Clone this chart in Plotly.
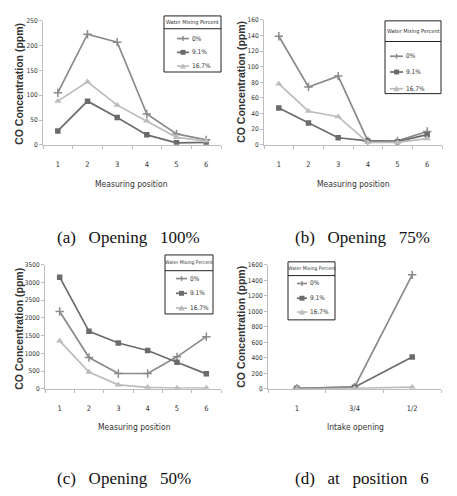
import plotly.graph_objects as go

# reference canvas size; the page adds an 8px body margin, so the figure is 8px smaller
W, H = 457, 496
PAD = 8
FW, FH = W - PAD, H - PAD

# series labels and marker styles
series = ["0%", "9.1%", "16.7%"]
colors = ["#8a8a8a", "#6b6b6b", "#bcbcbc"]

# x categories
positions = ["1", "2", "3", "4", "5", "6"]
openings = ["1", "3/4", "1/2"]

# (a) opening 100%
a_0 = [105, 223, 207, 62, 22, 10]
a_91 = [28, 88, 55, 20, 4, 5]
a_167 = [88, 127, 80, 48, 15, 8]

# (b) opening 75%
b_0 = [139, 74, 88, 5, 5, 17]
b_91 = [47, 28, 9, 5, 4, 13]
b_167 = [78, 43, 36, 3, 3, 8]

# (c) opening 50%
c_0 = [2180, 880, 430, 430, 900, 1470]
c_91 = [3150, 1620, 1290, 1080, 750, 420]
c_167 = [1350, 470, 110, 40, 20, 20]

# (d) at position 6
d_0 = [5, 20, 1470]
d_91 = [5, 20, 410]
d_167 = [3, 5, 20]

y_ranges = [250, 160, 3500, 1600]
y_dticks = [50, 20, 500, 200]
captions = ["(a)\u00a0\u00a0\u00a0Opening\u00a0\u00a0\u00a0100%",
            "(b)\u00a0\u00a0\u00a0Opening\u00a0\u00a0\u00a075%",
            "(c)\u00a0\u00a0\u00a0Opening\u00a0\u00a0\u00a050%",
            "(d)\u00a0\u00a0\u00a0at\u00a0\u00a0\u00a0position\u00a0\u00a0\u00a06"]
x_titles = ["Measuring position", "Measuring position", "Measuring position", "Intake opening"]

NARROW = "Liberation Sans Narrow, DejaVu Sans Condensed, Arial Narrow, sans-serif"
SANS = "Liberation Sans, Arial, sans-serif"
SERIF = "Liberation Serif, Times New Roman, serif"


def fx(x):
    return (x - PAD) / FW


def fy(y):
    return 1 - (y - PAD) / FH


def label(text, x, y, size, family=NARROW, xanchor="center", **kw):
    return dict(text=text, x=fx(x), y=fy(y), xref="paper", yref="paper",
                xanchor=xanchor, yanchor="middle", showarrow=False,
                font=dict(family=family, size=size, color=kw.pop("color", "#333333"),
                          weight=kw.pop("weight", "normal")), **kw)


# plot areas in pixels: x0, x1, ytop, ybottom
areas = [(43, 221, 17, 143), (264, 442, 16, 143), (45, 221, 265, 391), (268, 441, 265, 391)]

panels = [
    (positions, [a_0, a_91, a_167]),
    (positions, [b_0, b_91, b_167]),
    (positions, [c_0, c_91, c_167]),
    (openings, [d_0, d_91, d_167]),
]

symbols = ["cross-thin-open", "square", "triangle-up"]
msizes = [6, 5.5, 6.5]

fig = go.Figure()

for i, (cats, vals) in enumerate(panels):
    n = "" if i == 0 else str(i + 1)
    xs = list(range(1, len(cats) + 1))
    for k, v in enumerate(vals):
        fig.add_trace(go.Scatter(
            x=xs, y=v, mode="lines+markers", name=series[k], showlegend=False,
            xaxis="x" + n, yaxis="y" + n,
            line=dict(color=colors[k], width=1.7),
            marker=dict(symbol=symbols[k], size=msizes[k], color=colors[k],
                        line=dict(color=colors[k], width=1.5 if k == 0 else 0)),
        ))
    x0, x1, yt, yb = areas[i]
    fig.update_layout(**{
        "xaxis" + n: dict(
            domain=[fx(x0), fx(x1)], anchor="y" + n, range=[0.5, len(cats) + 0.5],
            tickvals=xs, ticktext=cats, ticks="", showgrid=False, zeroline=False,
            showline=True, linecolor="#bdbdbd", linewidth=1,
            ticklabelstandoff=12,
            minor=dict(tick0=0.5, dtick=1, ticks="outside", ticklen=3, tickcolor="#bdbdbd"),
            tickfont=dict(family=NARROW, size=7.5, color="#333333"),
        ),
        "yaxis" + n: dict(
            domain=[fy(yb), fy(yt)], anchor="x" + n, range=[0, y_ranges[i]],
            dtick=y_dticks[i], showgrid=False, zeroline=False,
            showline=True, linecolor="#bdbdbd", linewidth=1,
            ticks="outside", ticklen=3, tickcolor="#bdbdbd",
            tickfont=dict(family=NARROW, size=6.5, color="#333333"),
        ),
    })

annotations = []
shapes = []

# y titles, x titles, captions
ytitle_pos = [(19, 81), (241, 79), (19, 330), (241, 328)]
xtitle_pos = [(132, 183), (353, 183), (134, 430), (355, 430)]
caption_pos = [(55, 237), (293, 237), (55, 482), (293, 482)]
for i in range(4):
    annotations.append(label("CO Concentration (ppm)", *ytitle_pos[i], 10.5, family=SANS,
                             weight="bold", textangle=-90))
    annotations.append(label(x_titles[i], *xtitle_pos[i], 8.5))
    annotations.append(label(captions[i], *caption_pos[i], 17, family=SERIF,
                             xanchor="left", color="#111111"))

# legend boxes: box (x0, x1, y0, y1), separator y, header y, item ys, sample x0, x1, text x, header size
legends = [
    ((164, 221, 12, 69), 25, 19, [35, 49, 63], 177, 189, 190, 5.5),
    ((385, 441, 17, 91), 38, 28, [53, 69, 86], 390, 403, 404, 5.5),
    ((165, 213, 255, 315), 271, 263, [279, 294, 309], 176, 187, 188, 5),
    ((288, 335, 262, 321), 276, 269, [284, 299, 313], 297, 307, 308, 5),
]
for (bx0, bx1, by0, by1), sep, hy, iys, sx0, sx1, tx, hs in legends:
    shapes.append(dict(type="rect", xref="paper", yref="paper",
                       x0=fx(bx0), x1=fx(bx1), y0=fy(by1), y1=fy(by0),
                       line=dict(color="#222222", width=1), fillcolor="white", layer="above"))
    shapes.append(dict(type="line", xref="paper", yref="paper",
                       x0=fx(bx0), x1=fx(bx1), y0=fy(sep), y1=fy(sep),
                       line=dict(color="#222222", width=1), layer="above"))
    annotations.append(label("Water Mixing Percent", (bx0 + bx1) / 2, hy, hs))
    for k, iy in enumerate(iys):
        mx = (sx0 + sx1) / 2
        shapes.append(dict(type="line", xref="paper", yref="paper",
                           x0=fx(sx0), x1=fx(sx1), y0=fy(iy), y1=fy(iy),
                           line=dict(color=colors[k], width=1.7), layer="above"))
        if k == 0:
            shapes.append(dict(type="line", xref="paper", yref="paper",
                               x0=fx(mx), x1=fx(mx), y0=fy(iy - 2.5), y1=fy(iy + 2.5),
                               line=dict(color=colors[k], width=1.4), layer="above"))
        elif k == 1:
            shapes.append(dict(type="rect", xref="paper", yref="paper",
                               x0=fx(mx - 2.5), x1=fx(mx + 2.5), y0=fy(iy + 2.5), y1=fy(iy - 2.5),
                               line=dict(width=0), fillcolor=colors[k], layer="above"))
        else:
            shapes.append(dict(type="path", xref="paper", yref="paper",
                               path="M %f,%f L %f,%f L %f,%f Z" % (
                                   fx(mx - 3), fy(iy + 2.5), fx(mx + 3), fy(iy + 2.5), fx(mx), fy(iy - 3)),
                               line=dict(width=0), fillcolor=colors[k], layer="above"))
        annotations.append(label(series[k], tx, iy, 6.5, xanchor="left"))

fig.update_layout(
    width=FW, height=FH, margin=dict(l=0, r=0, t=0, b=0),
    paper_bgcolor="white", plot_bgcolor="white",
    annotations=annotations, shapes=shapes, showlegend=False,
)

fig.write_html("out.html")
